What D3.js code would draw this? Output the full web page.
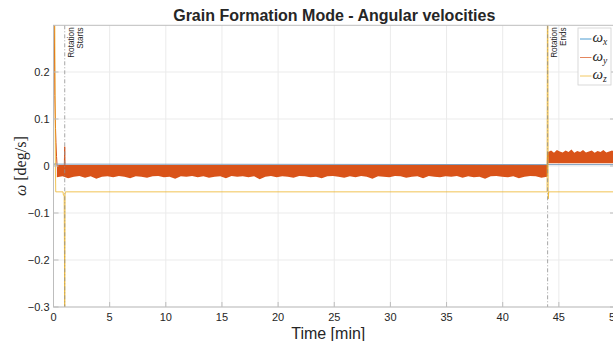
<!DOCTYPE html>
<html>
<head>
<meta charset="utf-8">
<script src="https://cdn.jsdelivr.net/npm/d3@7"></script>
<style>
  body { margin: 0; background: #fff; }
  text { font-family: "Liberation Sans", Arial, sans-serif; fill: #262626; }
</style>
</head>
<body>
<svg id="plot"></svg>
<script>
// ---- data ----
const xTicks = [0, 5, 10, 15, 20, 25, 30, 35, 40, 45, 50];
const yTicks = [-0.3, -0.2, -0.1, 0, 0.1, 0.2];

// omega_x : stays near zero
const wxTime = [0, 0.1, 0.3, 1, 44, 50];
const wxVal  = [0.0, 0.005, 0.004, 0.004, 0.003, 0.003];

// omega_y : start transient, spike at rotation start, noisy band
const wyStartTime = [0, 0.07, 0.12, 0.18, 0.22, 0.27, 0.32];
const wyStartVal  = [0.45, 0.3, 0.15, 0.08, 0.05, 0.02, 0.0];
const wySpikeTime = [0.95, 0.98, 1.0, 1.02, 1.05];
const wySpikeVal  = [-0.015, 0.02, 0.041, 0.01, -0.02];

const bandPreStart = 0.3, bandPreEnd = 43.95, bandPreTop = 0.002;
const bandPreLow = [-0.024,-0.022,-0.026,-0.023,-0.021,-0.025,-0.022,-0.027,-0.023,-0.022,
  -0.024,-0.021,-0.023,-0.026,-0.022,-0.023,-0.025,-0.022,-0.021,-0.024,
  -0.023,-0.027,-0.022,-0.023,-0.021,-0.024,-0.022,-0.025,-0.023,-0.022,
  -0.026,-0.021,-0.023,-0.022,-0.024,-0.022,-0.028,-0.023,-0.021,-0.024,
  -0.022,-0.023,-0.025,-0.021,-0.022,-0.024,-0.023,-0.026,-0.022,-0.021,
  -0.023,-0.025,-0.022,-0.024,-0.021,-0.023,-0.027,-0.022,-0.023,-0.024,
  -0.021,-0.022,-0.025,-0.023,-0.022,-0.026,-0.021,-0.023,-0.024,-0.022,
  -0.023,-0.021,-0.025,-0.022,-0.024,-0.023,-0.027,-0.022,-0.021,-0.023,
  -0.024,-0.022,-0.026,-0.023,-0.021,-0.022,-0.025,-0.023];

const bandPostStart = 44.05, bandPostEnd = 50, bandPostLow = 0.006;
const bandPostTop = [0.030,0.033,0.028,0.034,0.031,0.029,0.033,0.030,0.035,0.028,
  0.032,0.030,0.034,0.029,0.031,0.033,0.028,0.032,0.030,0.034,0.029,0.031,0.033,0.030];

// omega_z : steps and spikes
const wzTime = [0, 0.1, 0.17, 0.2, 0.85, 0.88, 0.95, 0.98, 1.0, 1.03, 1.06, 43.95, 44.0, 44.05, 44.1, 50];
const wzVal  = [0.6, 0.4, 0.0, -0.055, -0.055, -0.062, -0.062, -0.2, -0.4, -0.06, -0.055, -0.055, 0.6, -0.07, -0.055, -0.055];

const events = [{t: 1, lines: ["Rotation", "Starts"]}, {t: 44, lines: ["Rotation", "Ends"]}];
const legendNames = ["x", "y", "z"];
const colors = ["#0072BD", "#D95319", "#EDB120"];

// ---- layout ----
const W = 613, H = 341;
const margin = {top: 25.3, left: 53.5};
const width = 561.5, height = 281.7;

const svg = d3.select("#plot").attr("width", W).attr("height", H);

const xScale = d3.scaleLinear().domain([0, 50]).range([margin.left, margin.left + width]);
const yScale = d3.scaleLinear().domain([-0.3, 0.2994]).range([margin.top + height, margin.top]);

// grid
svg.append("g").selectAll("line").data(xTicks).join("line")
  .attr("x1", d => xScale(d)).attr("x2", d => xScale(d))
  .attr("y1", margin.top).attr("y2", margin.top + height)
  .attr("stroke", "#ebebeb").attr("stroke-width", 1);
svg.append("g").selectAll("line").data(yTicks).join("line")
  .attr("x1", margin.left).attr("x2", margin.left + width)
  .attr("y1", d => yScale(d)).attr("y2", d => yScale(d))
  .attr("stroke", "#ebebeb").attr("stroke-width", 1);

svg.append("clipPath").attr("id", "clip").append("rect")
  .attr("x", margin.left).attr("y", margin.top).attr("width", width).attr("height", height);

const plot = svg.append("g").attr("clip-path", "url(#clip)");

const line = d3.line().x(d => xScale(d[0])).y(d => yScale(d[1]));
const zip = (a, b) => a.map((t, i) => [t, b[i]]);

// omega_y noisy band
const preStep = (bandPreEnd - bandPreStart) / (bandPreLow.length - 1);
const prePts = bandPreLow.map((v, i) => ({t: bandPreStart + i * preStep, lo: v, hi: bandPreTop}));
const postStep = (bandPostEnd - bandPostStart) / (bandPostTop.length - 1);
const postPts = bandPostTop.map((v, i) => ({t: bandPostStart + i * postStep, lo: bandPostLow, hi: v}));
const area = d3.area().x(d => xScale(d.t)).y0(d => yScale(d.lo)).y1(d => yScale(d.hi));
plot.append("path").datum(prePts).attr("d", area).attr("fill", colors[1]);
plot.append("path").datum(postPts).attr("d", area).attr("fill", colors[1]);
// join band edges at 44
plot.append("path").datum([[bandPreEnd, -0.02], [44.0, 0.03], [bandPostStart, 0.02]])
  .attr("d", line).attr("fill", "none").attr("stroke", colors[1]).attr("stroke-width", 1);

plot.append("path").datum(zip(wyStartTime, wyStartVal)).attr("d", line)
  .attr("fill", "none").attr("stroke", colors[1]).attr("stroke-width", 1);
plot.append("path").datum(zip(wySpikeTime, wySpikeVal)).attr("d", line)
  .attr("fill", "none").attr("stroke", colors[1]).attr("stroke-width", 1);

// omega_x
plot.append("path").datum(zip(wxTime, wxVal)).attr("d", line)
  .attr("fill", "none").attr("stroke", "#7f9fbf").attr("stroke-width", 1);

// omega_z
plot.append("path").datum(zip(wzTime, wzVal)).attr("d", line)
  .attr("fill", "none").attr("stroke", colors[2]).attr("stroke-width", 0.9).attr("stroke-opacity", 0.85);

// event lines + labels
events.forEach(e => {
  const x = xScale(e.t);
  svg.append("line").attr("x1", x).attr("x2", x)
    .attr("y1", margin.top).attr("y2", margin.top + height)
    .attr("stroke", "#8f8f8f").attr("stroke-width", 0.8).attr("stroke-dasharray", "4,2,1,2");
  e.lines.forEach((s, i) => {
    svg.append("text")
      .attr("transform", `translate(${x + 9.5 + i * 8.8},${margin.top + 2}) rotate(-90)`)
      .attr("text-anchor", "end")
      .style("font-size", "8.2px")
      .text(s);
  });
});

// axes box + ticks
svg.append("rect").attr("x", margin.left).attr("y", margin.top)
  .attr("width", width).attr("height", height)
  .attr("fill", "none").attr("stroke", "#bdbdbd").attr("stroke-width", 1);
const tl = 5;
svg.append("g").selectAll("line").data(xTicks).join("line")
  .attr("x1", d => xScale(d)).attr("x2", d => xScale(d))
  .attr("y1", margin.top + height).attr("y2", margin.top + height - tl)
  .attr("stroke", "#bdbdbd");
svg.append("g").selectAll("line").data(yTicks).join("line")
  .attr("x1", margin.left).attr("x2", margin.left + tl)
  .attr("y1", d => yScale(d)).attr("y2", d => yScale(d))
  .attr("stroke", "#bdbdbd");
svg.append("g").selectAll("line").data(yTicks).join("line")
  .attr("x1", margin.left + width).attr("x2", margin.left + width - tl)
  .attr("y1", d => yScale(d)).attr("y2", d => yScale(d))
  .attr("stroke", "#bdbdbd");

svg.append("g").selectAll("text").data(xTicks).join("text")
  .attr("x", d => xScale(d)).attr("y", margin.top + height + 14)
  .attr("text-anchor", "middle").style("font-size", "11px")
  .text(d => d);
svg.append("g").selectAll("text").data(yTicks).join("text")
  .attr("x", margin.left - 4).attr("y", d => yScale(d) + 4)
  .attr("text-anchor", "end").style("font-size", "11px")
  .text(d => d3.format("")(+d.toFixed(1)));

// labels
svg.append("text").attr("x", margin.left + width / 2).attr("y", 21)
  .attr("text-anchor", "middle").style("font-size", "16px").style("font-weight", "bold")
  .text("Grain Formation Mode - Angular velocities");
svg.append("text").attr("x", margin.left + width / 2 - 6).attr("y", 338.5)
  .attr("text-anchor", "middle").style("font-size", "16px")
  .text("Time [min]");
const yl = svg.append("text")
  .attr("transform", `translate(${26},${margin.top + height / 2}) rotate(-90)`)
  .attr("text-anchor", "middle")
  .style("font-family", "'Liberation Serif', serif").style("font-size", "16px");
yl.append("tspan").style("font-style", "italic").text("ω");
yl.append("tspan").text("  [deg/s]");

// legend
const lg = svg.append("g");
lg.append("rect").attr("x", 578).attr("y", 28).attr("width", 33).attr("height", 57)
  .attr("fill", "#fff").attr("stroke", "#d0d0d0").attr("stroke-width", 0.8);
legendNames.forEach((n, i) => {
  const y = 39 + i * 18.5;
  lg.append("line").attr("x1", 580).attr("x2", 591.5).attr("y1", y).attr("y2", y)
    .attr("stroke", colors[i]).attr("stroke-opacity", 0.7).attr("stroke-width", 1);
  const t = lg.append("text").attr("x", 592.5).attr("y", y + 3)
    .style("font-family", "'Liberation Serif', serif").style("font-style", "italic")
    .style("font-size", "15px");
  t.append("tspan").text("ω");
  t.append("tspan").attr("dy", 3).style("font-size", "9.5px").text(n);
});
</script>
</body>
</html>
